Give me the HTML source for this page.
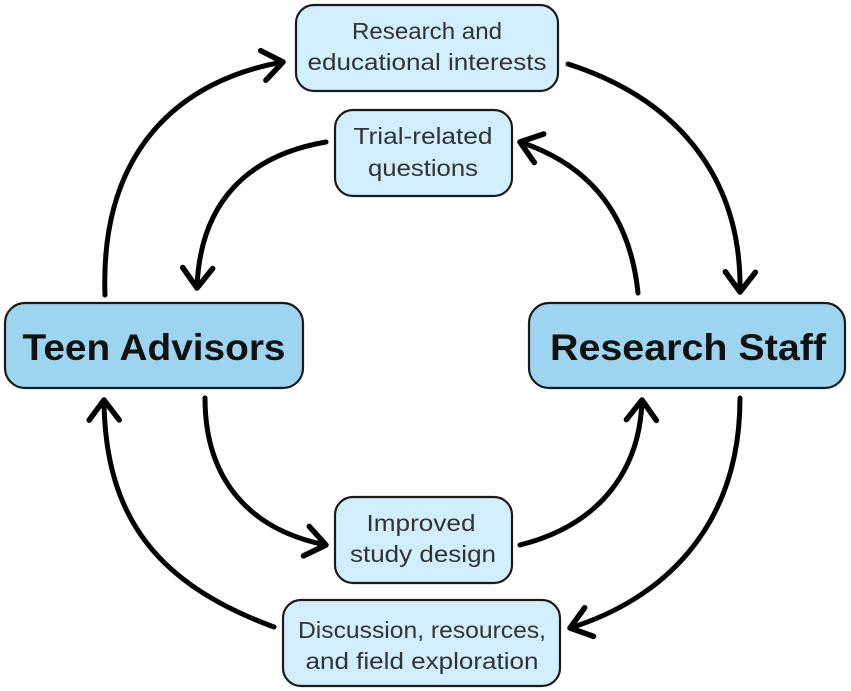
<!DOCTYPE html>
<html><head><meta charset="utf-8"><style>
html,body{margin:0;padding:0;background:#fff;}
svg{display:block;}
text{font-family:"Liberation Sans",sans-serif;}
</style></head><body>
<svg width="851" height="691" viewBox="0 0 851 691" xmlns="http://www.w3.org/2000/svg">
<defs>
<marker id="a" markerWidth="8" markerHeight="8" refX="5" refY="4" orient="auto" markerUnits="strokeWidth">
<path d="M1,1 L5,4 L1,7" fill="none" stroke="#000" stroke-width="1.1" stroke-linecap="round" stroke-linejoin="round"/>
</marker>
</defs>
<g fill="none" stroke="#000" stroke-width="5" stroke-linecap="round">
<path d="M105,295 C100,150 180,80 283,62" marker-end="url(#a)"/>
<path d="M326,142 C250,155 200,200 197,288" marker-end="url(#a)"/>
<path d="M568,64 C680,100 742,180 740,292" marker-end="url(#a)"/>
<path d="M638,293 C630,215 590,165 520,142" marker-end="url(#a)"/>
<path d="M205,398 C205,480 250,530 326,545" marker-end="url(#a)"/>
<path d="M520,545 C600,525 640,470 642,400" marker-end="url(#a)"/>
<path d="M740,398 C740,530 660,600 570,628" marker-end="url(#a)"/>
<path d="M274,627 C160,585 105,520 104,400" marker-end="url(#a)"/>
</g>
<g stroke="#1a1a1a" stroke-width="2.2">
<rect x="5" y="303" width="298" height="85" rx="20" fill="#9dd5f0"/>
<rect x="529" y="303" width="316" height="85" rx="20" fill="#9dd5f0"/>
<rect x="296" y="5" width="262" height="86" rx="18" fill="#d2edfc"/>
<rect x="335" y="110" width="177" height="86" rx="18" fill="#d2edfc"/>
<rect x="335" y="497" width="177" height="86" rx="18" fill="#d2edfc"/>
<rect x="283" y="600" width="277" height="86" rx="18" fill="#d2edfc"/>
</g>
<g font-weight="bold" font-size="37" fill="#111" text-anchor="middle">
<text x="154" y="360" textLength="263" lengthAdjust="spacingAndGlyphs">Teen Advisors</text>
<text x="688" y="360" textLength="276" lengthAdjust="spacingAndGlyphs">Research Staff</text>
</g>
<g font-size="23" fill="#333" text-anchor="middle" lengthAdjust="spacingAndGlyphs">
<text x="427" y="39" textLength="150" lengthAdjust="spacingAndGlyphs">Research and</text>
<text x="427" y="70" textLength="239" lengthAdjust="spacingAndGlyphs">educational interests</text>
<text x="423" y="144" textLength="139" lengthAdjust="spacingAndGlyphs">Trial-related</text>
<text x="423" y="176" textLength="110" lengthAdjust="spacingAndGlyphs">questions</text>
<text x="421" y="531" textLength="109" lengthAdjust="spacingAndGlyphs">Improved</text>
<text x="423" y="562" textLength="146" lengthAdjust="spacingAndGlyphs">study design</text>
<text x="422" y="638" textLength="248" lengthAdjust="spacingAndGlyphs">Discussion, resources,</text>
<text x="422" y="669" textLength="233" lengthAdjust="spacingAndGlyphs">and field exploration</text>
</g>
</svg>
</body></html>
